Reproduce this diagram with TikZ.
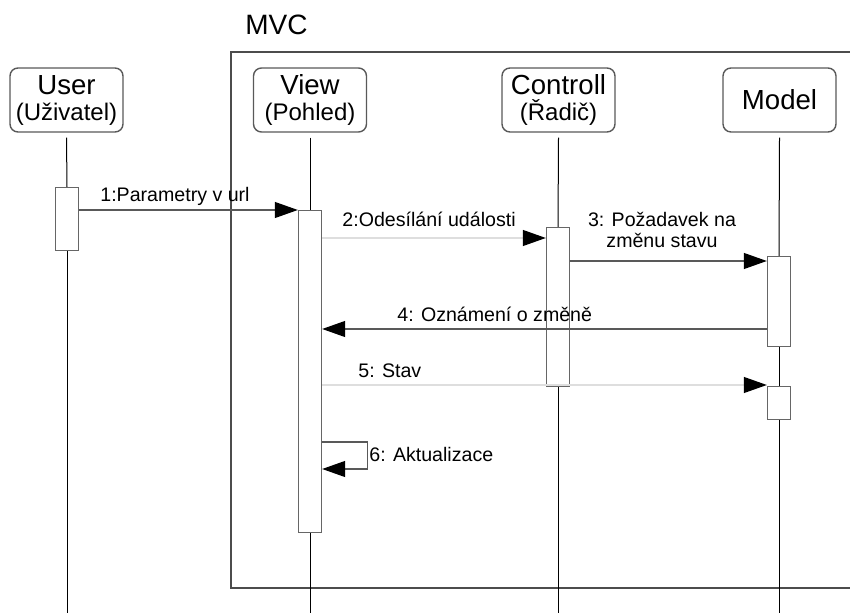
\documentclass[tikz,border=0pt]{standalone}
\usepackage{fontspec}
\setmainfont{Liberation Sans}
\usetikzlibrary{arrows.meta}

\begin{document}
\begin{tikzpicture}[x=0.5pt,y=-0.5pt,
  head/.style={draw=black!65,line width=0.7pt,rounded corners=4pt,fill=white,
    minimum width=56.5pt,minimum height=32pt,align=center,inner sep=1pt,
    font=\fontsize{13.8}{13}\selectfont},
  act/.style={draw=black!60,line width=0.7pt,fill=white,minimum width=11.5pt,
    inner sep=0pt,anchor=north},
  life/.style={black,line width=0.5pt},
  msg/.style={draw=black!65,line width=0.6pt,
    -{Triangle[length=11.5pt,width=8pt,color=black]}},
  faint/.style={draw=black!13},
  lbl/.style={inner sep=0pt,anchor=west,font=\fontsize{9.8}{10.5}\selectfont}]
  \useasboundingbox (0,0) rectangle (850,613);

  % frame
  \draw[black!70,line width=1pt] (850,52) -- (231,52) -- (231,588) -- (850,588);
  \node[inner sep=0pt,anchor=west,font=\fontsize{14}{14}\selectfont] (mvc) at (245,25) {MVC};

  % heads
  \node[head] (user) at (66.5,100) {User\\{\fontsize{12}{13}\selectfont(Uživatel)}};
  \node[head] (view) at (310,100) {View\\{\fontsize{12}{13}\selectfont(Pohled)}};
  \node[head] (ctrl) at (558.5,100) {Controll\\{\fontsize{12}{13}\selectfont(Řadič)}};
  \node[head] (model) at (779.5,100) {Model};

  % activations
  \node[act,minimum height=31.5pt] (uact) at (67,187) {};
  \node[act,minimum height=161pt] (vact) at (310,210) {};
  \node[act,minimum height=79.5pt] (cact) at (558,227) {};
  \node[act,minimum height=45pt] (mact1) at (779,256) {};
  \node[act,minimum height=16.5pt] (mact2) at (779,386) {};

  \coordinate (bot) at (0,613);
  \coordinate (m1) at (0,210);
  \coordinate (m2) at (0,238);
  \coordinate (m3) at (0,261);
  \coordinate (m4) at (0,329);
  \coordinate (m5) at (0,385);
  \coordinate (m6) at (0,442);
  \coordinate (m6b) at (0,469);

  % lifelines
  \foreach \h/\a in {user/uact,view/vact,ctrl/cact,model/mact1}{
     \draw[life] ([yshift=-2.5pt]\h.south) -- (\a.north);
  }
  \foreach \a in {uact,vact,cact,mact2}{
     \draw[life] (\a.south) -- (\a.south |- bot);
  }
  \draw[life] (mact1.south) -- (mact2.north);

  % messages
  \draw[msg] (uact.east |- m1) -- (vact.west |- m1);
  \draw[msg,faint] (vact.east |- m2) -- (cact.west |- m2);
  \draw[msg] (cact.east |- m3) -- (mact1.west |- m3);
  \draw[msg] (mact1.west |- m4) -- (vact.east |- m4);
  \draw[msg,faint] (vact.east |- m5) -- (mact2.west |- m5);
  \draw[msg] (vact.east |- m6) -- ++(45,0) |- (vact.east |- m6b);

  \node[lbl] (l1) at (100,196) {1:Parametry v url};
  \node[lbl] (l2) at (342,219) {2:Odesílání události};
  \node[lbl,anchor=center,align=center] (l3) at (662,230) {3: Požadavek na\\změnu stavu};
  \node[lbl] (l4) at (397,314) {4: Oznámení o změně};
  \node[lbl] (l5) at (358,371) {5: Stav};
  \node[lbl] (l6) at (369,454) {6: Aktualizace};
\end{tikzpicture}
\end{document}
